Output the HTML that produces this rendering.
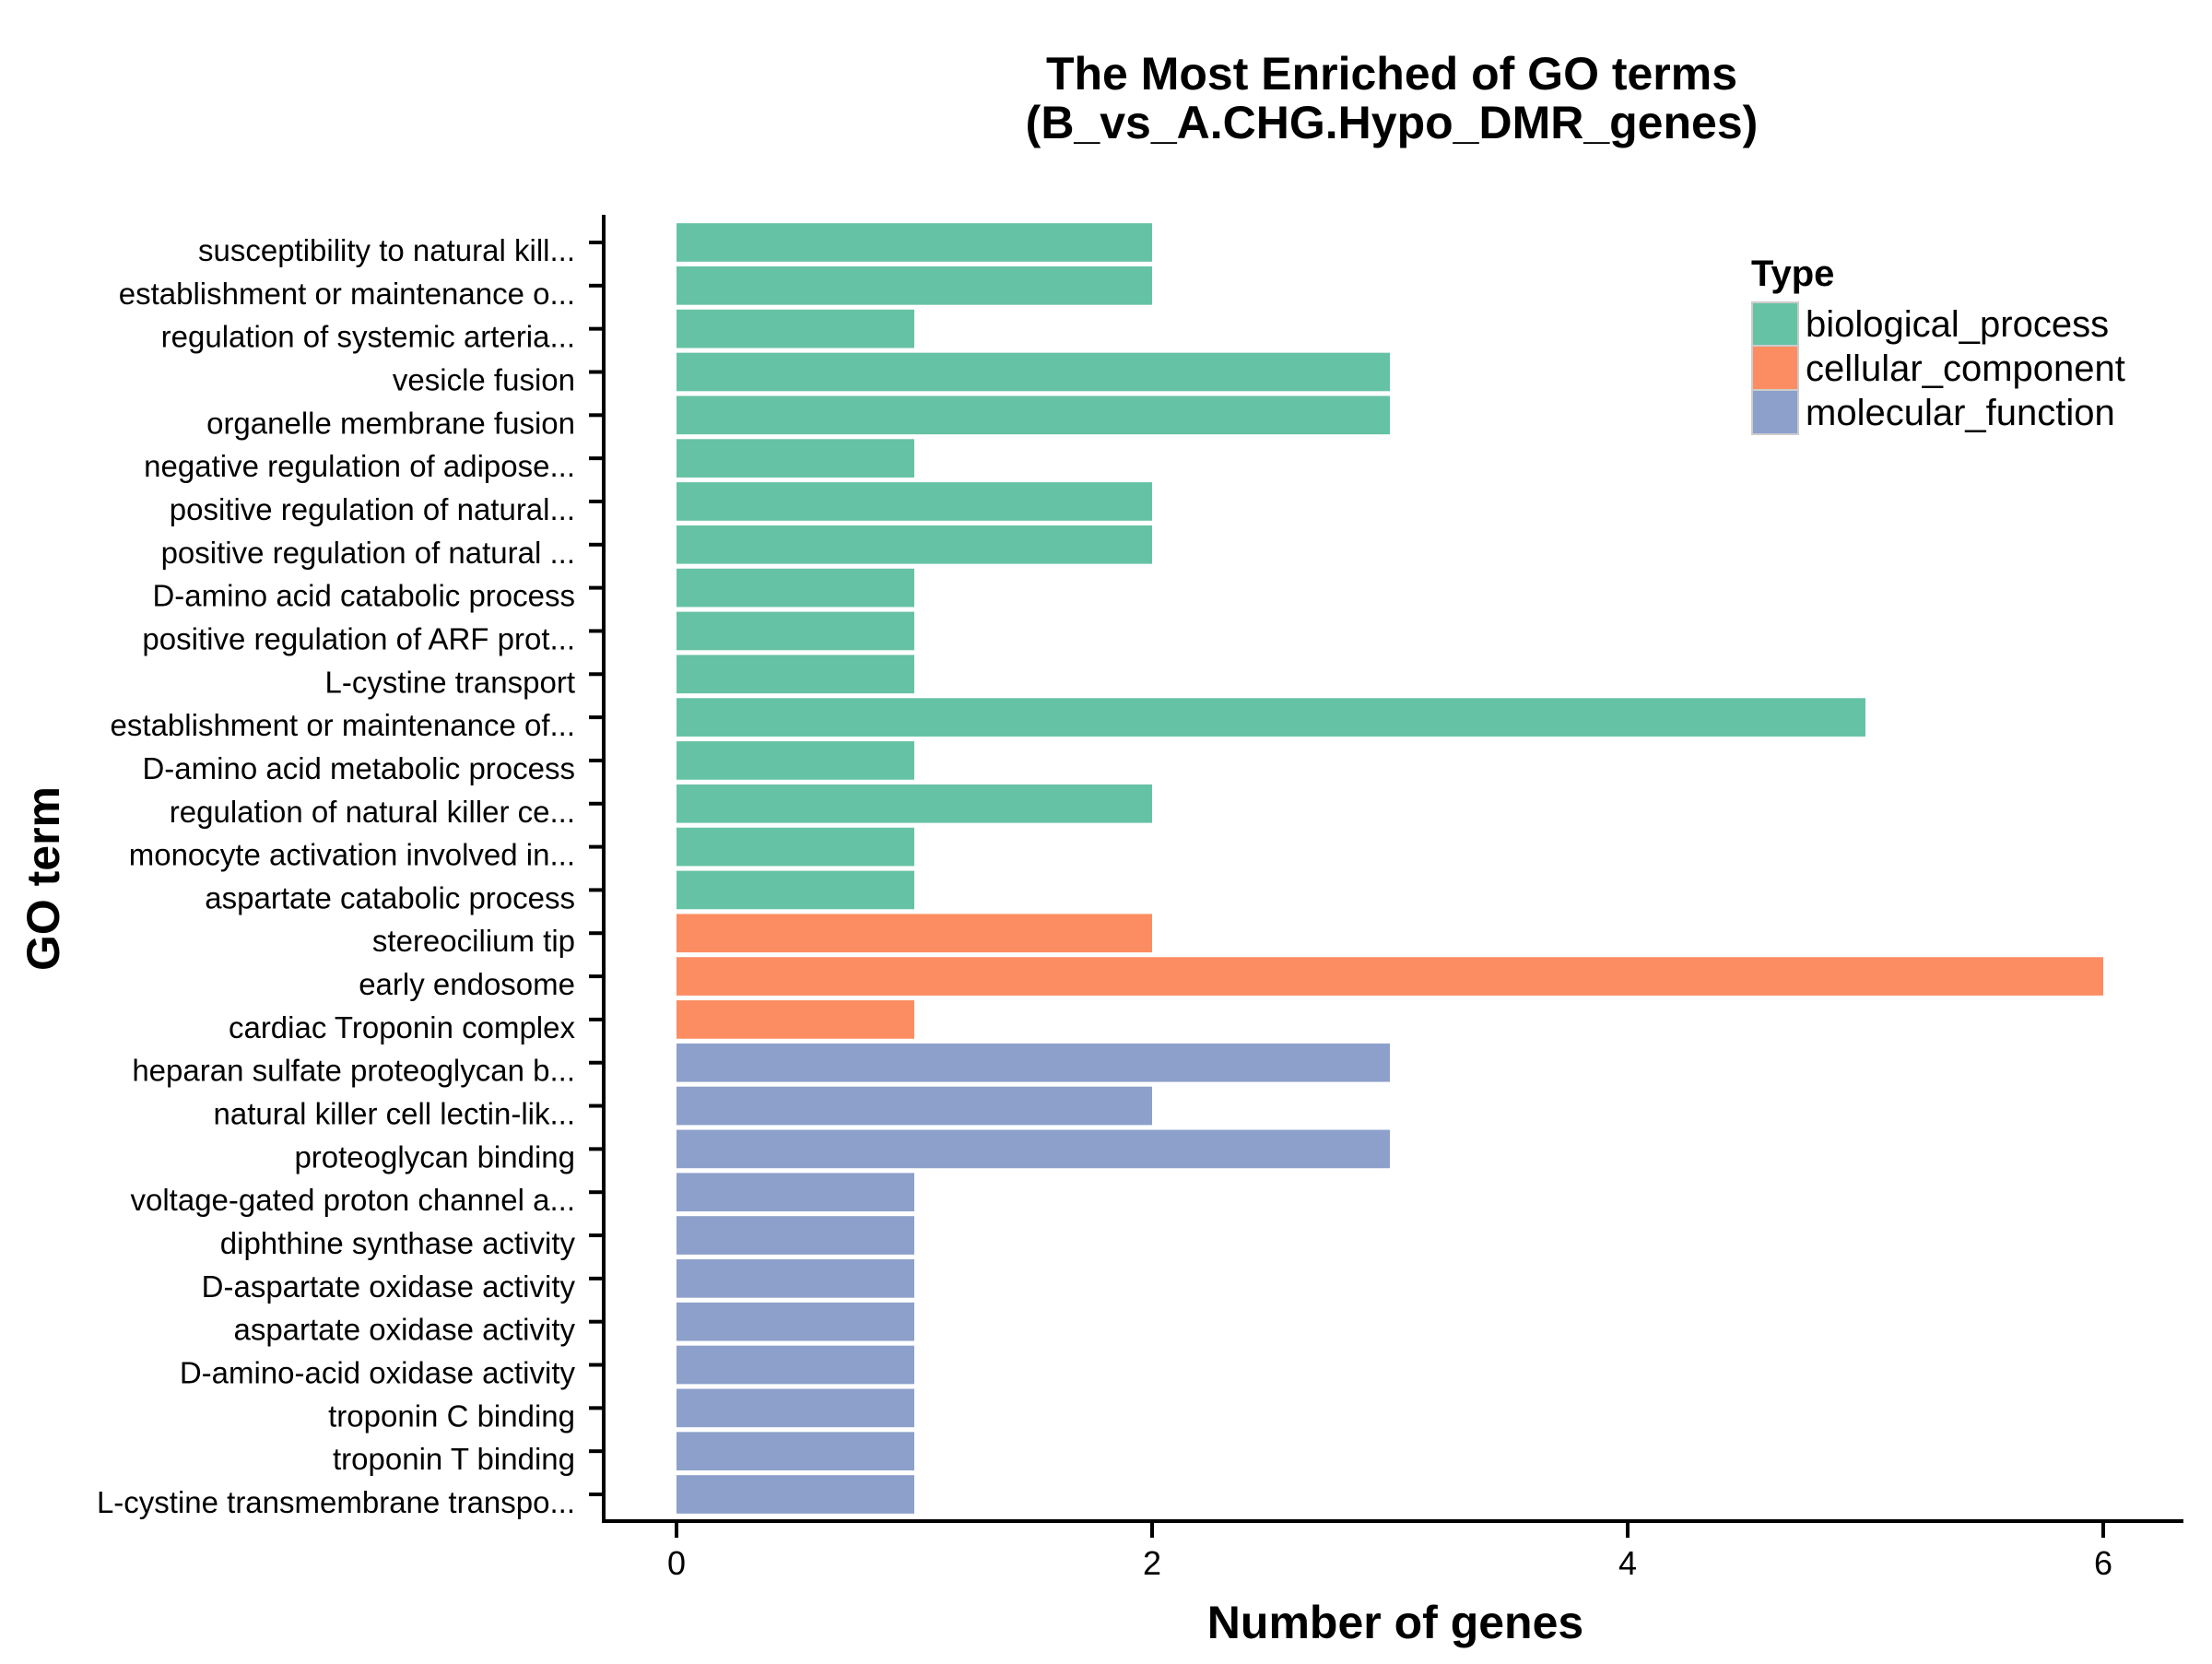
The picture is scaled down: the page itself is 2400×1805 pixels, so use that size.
<!DOCTYPE html>
<html><head><meta charset="utf-8"><style>
html,body{margin:0;padding:0;background:#fff;}
svg text{font-family:"Liberation Sans",Arial,sans-serif;}
</style></head><body>
<svg id="chart" width="2400" height="1800" viewBox="0 0 2400 1800" xmlns="http://www.w3.org/2000/svg">
<rect width="2400" height="1800" fill="#fff"/>
<text x="1510" y="97" font-size="50" font-weight="bold" text-anchor="middle">The Most Enriched of GO terms</text>
<text x="1510" y="150" font-size="50" font-weight="bold" text-anchor="middle">(B_vs_A.CHG.Hypo_DMR_genes)</text>
<text transform="translate(64,953) rotate(-90)" font-size="50" font-weight="bold" text-anchor="middle">GO term</text>
<text x="1514" y="1777" font-size="50" font-weight="bold" text-anchor="middle">Number of genes</text>
<g id="bars"></g>
<g id="yticks"></g>
<g id="xticks"></g>
<line x1="655" y1="233" x2="655" y2="1652" stroke="#000" stroke-width="4"/>
<line x1="653" y1="1650" x2="2369" y2="1650" stroke="#000" stroke-width="4"/>
<g>
<text x="1900" y="310" font-size="40" font-weight="bold">Type</text>
<rect x="1901" y="328" width="50" height="47" fill="#66c2a5" stroke="#ccc" stroke-width="2"/>
<rect x="1901" y="375" width="50" height="48" fill="#fc8d62" stroke="#ccc" stroke-width="2"/>
<rect x="1901" y="423" width="50" height="48" fill="#8da0cb" stroke="#ccc" stroke-width="2"/>
<text x="1959" y="365" font-size="40">biological_process</text>
<text x="1959" y="413" font-size="40">cellular_component</text>
<text x="1959" y="461" font-size="40">molecular_function</text>
</g>
</svg>
<script>
const terms = ["susceptibility to natural kill...","establishment or maintenance o...","regulation of systemic arteria...","vesicle fusion","organelle membrane fusion","negative regulation of adipose...","positive regulation of natural...","positive regulation of natural ...","D-amino acid catabolic process","positive regulation of ARF prot...","L-cystine transport","establishment or maintenance of...","D-amino acid metabolic process","regulation of natural killer ce...","monocyte activation involved in...","aspartate catabolic process","stereocilium tip","early endosome","cardiac Troponin complex","heparan sulfate proteoglycan b...","natural killer cell lectin-lik...","proteoglycan binding","voltage-gated proton channel a...","diphthine synthase activity","D-aspartate oxidase activity","aspartate oxidase activity","D-amino-acid oxidase activity","troponin C binding","troponin T binding","L-cystine transmembrane transpo..."];
const counts = [2,2,1,3,3,1,2,2,1,1,1,5,1,2,1,1,2,6,1,3,2,3,1,1,1,1,1,1,1,1];
const types = ["bp","bp","bp","bp","bp","bp","bp","bp","bp","bp","bp","bp","bp","bp","bp","bp","cc","cc","cc","mf","mf","mf","mf","mf","mf","mf","mf","mf","mf","mf"];
const xTicks = [0,2,4,6];
const colors = {bp:"#66c2a5",cc:"#fc8d62",mf:"#8da0cb"};
const NS="http://www.w3.org/2000/svg";
const xScale = v => 734 + v*258;
const yTop = 263, yStep = (1621-263)/29;
const yScale = i => yTop + i*yStep;
const barH = yStep*0.89;
const bars=document.getElementById('bars'), yt=document.getElementById('yticks'), xt=document.getElementById('xticks');
terms.forEach((t,i)=>{
  const y=yScale(i);
  const r=document.createElementNS(NS,'rect');
  
  
  r.setAttribute('x',xScale(0)); r.setAttribute('y',y-barH/2);
  r.setAttribute('width',xScale(counts[i])-xScale(0)); r.setAttribute('height',barH);
  r.setAttribute('fill',colors[types[i]]);
  bars.appendChild(r);
  const tk=document.createElementNS(NS,'line');
  
  
  tk.setAttribute('x1',639); tk.setAttribute('x2',655); tk.setAttribute('y1',y); tk.setAttribute('y2',y);
  tk.setAttribute('stroke','#000'); tk.setAttribute('stroke-width',4);
  yt.appendChild(tk);
  const tx=document.createElementNS(NS,'text');
  
  
  tx.setAttribute('x',624); tx.setAttribute('y',y+20); tx.setAttribute('font-size',33);
  tx.setAttribute('text-anchor','end');
  tx.textContent=t;
  yt.appendChild(tx);
});
xTicks.forEach(v=>{
  const x=xScale(v);
  const tk=document.createElementNS(NS,'line');
  
  
  tk.setAttribute('x1',x); tk.setAttribute('x2',x); tk.setAttribute('y1',1650); tk.setAttribute('y2',1668);
  tk.setAttribute('stroke','#000'); tk.setAttribute('stroke-width',4);
  xt.appendChild(tk);
  const tx=document.createElementNS(NS,'text');
  
  
  tx.setAttribute('x',x); tx.setAttribute('y',1708); tx.setAttribute('font-size',36);
  tx.setAttribute('text-anchor','middle');
  tx.textContent=v;
  xt.appendChild(tx);
});
</script>
</body></html>
